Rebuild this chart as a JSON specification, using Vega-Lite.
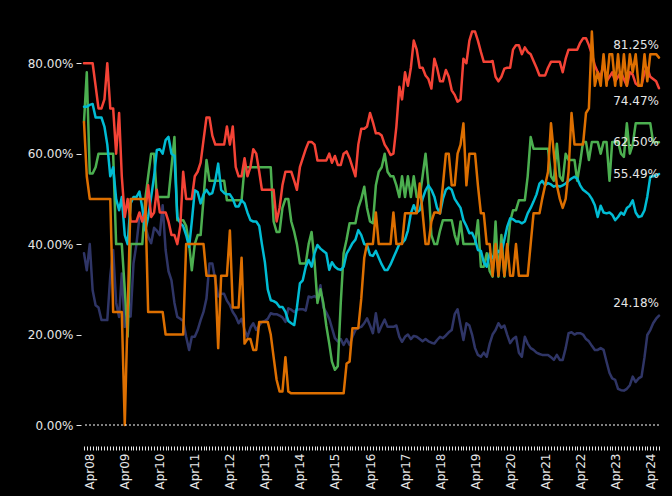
{
"$schema": "https://vega.github.io/schema/vega-lite/v6.json",
"width": 575, "height": 407,
"autosize": {"type": "none"},
"padding": {"left": 84, "top": 18, "right": 13, "bottom": 71},
"background": "#000000",
"config": {"view": {"stroke": null}, "font": "DejaVu Sans"},
"layer": [
{"data": {"format": {"parse": {"d": "date:'%Y-%m'"}}, "values": [
{"d":"2008-02","r":80,"o":67,"g":67,"c":70.4,"n":38},
{"d":"2008-03","r":80,"o":55,"g":78,"c":70.4,"n":34.2},
{"d":"2008-04","r":80,"o":50,"g":55.6,"c":70.8,"n":40},
{"d":"2008-05","r":80,"o":50,"g":55.6,"c":71,"n":29.8},
{"d":"2008-06","r":75,"o":50,"g":57,"c":68,"n":26.5},
{"d":"2008-07","r":70,"o":50,"g":60,"c":68,"n":26},
{"d":"2008-08","r":70,"o":50,"g":60,"c":68,"n":23.2},
{"d":"2008-09","r":72,"o":50,"g":60,"c":66,"n":23.2},
{"d":"2008-10","r":80,"o":50,"g":60,"c":62,"n":23.2},
{"d":"2008-11","r":70,"o":50,"g":60,"c":55,"n":33},
{"d":"2008-12","r":70,"o":25,"g":60,"c":57,"n":38.7},
{"d":"2009-01","r":60,"o":25,"g":40,"c":50,"n":27},
{"d":"2009-02","r":69,"o":25,"g":40,"c":47.5,"n":23.9},
{"d":"2009-03","r":55,"o":25,"g":40,"c":50.4,"n":33.5},
{"d":"2009-04","r":46,"o":0,"g":30,"c":42,"n":21.7},
{"d":"2009-05","r":50,"o":25,"g":19.5,"c":40,"n":24},
{"d":"2009-06","r":45,"o":50,"g":40,"c":49,"n":24},
{"d":"2009-07","r":45,"o":50,"g":40,"c":50.4,"n":35.7},
{"d":"2009-08","r":45,"o":50,"g":40,"c":50.4,"n":40},
{"d":"2009-09","r":47,"o":50,"g":40,"c":51.6,"n":46},
{"d":"2009-10","r":45,"o":50,"g":40,"c":48,"n":45.5},
{"d":"2009-11","r":47,"o":50,"g":50,"c":43,"n":44},
{"d":"2009-12","r":53,"o":25,"g":55,"c":46,"n":41.6},
{"d":"2010-01","r":46,"o":25,"g":60,"c":50.4,"n":40.2},
{"d":"2010-02","r":47,"o":25,"g":60,"c":55,"n":43.6},
{"d":"2010-03","r":52,"o":25,"g":50.4,"c":60.8,"n":43},
{"d":"2010-04","r":47,"o":25,"g":50.4,"c":61,"n":42},
{"d":"2010-05","r":47,"o":25,"g":50.4,"c":60,"n":48.6},
{"d":"2010-06","r":47,"o":20,"g":50.4,"c":63,"n":38.7},
{"d":"2010-07","r":45,"o":20,"g":50.4,"c":63.7,"n":34},
{"d":"2010-08","r":42,"o":20,"g":57,"c":60,"n":32},
{"d":"2010-09","r":42,"o":20,"g":63.7,"c":59.5,"n":27},
{"d":"2010-10","r":40,"o":20,"g":45.3,"c":46,"n":23.9},
{"d":"2010-11","r":44,"o":20,"g":45.3,"c":44.6,"n":23.5},
{"d":"2010-12","r":56,"o":20,"g":45.3,"c":44,"n":23},
{"d":"2011-01","r":50,"o":40,"g":44,"c":42,"n":19.5},
{"d":"2011-02","r":50,"o":40,"g":40,"c":39.4,"n":16.6},
{"d":"2011-03","r":50,"o":40,"g":34.2,"c":45,"n":19.5},
{"d":"2011-04","r":55,"o":40,"g":40,"c":51.9,"n":19.5},
{"d":"2011-05","r":56,"o":40,"g":42,"c":51.5,"n":21},
{"d":"2011-06","r":58,"o":40,"g":42,"c":49,"n":23.2},
{"d":"2011-07","r":63,"o":40,"g":50,"c":51,"n":25},
{"d":"2011-08","r":68,"o":33,"g":58.6,"c":52,"n":28},
{"d":"2011-09","r":68,"o":33,"g":54,"c":51,"n":35.7},
{"d":"2011-10","r":64,"o":33,"g":54,"c":51.3,"n":35.7},
{"d":"2011-11","r":62,"o":33,"g":54,"c":54,"n":32},
{"d":"2011-12","r":62,"o":17,"g":54,"c":57.8,"n":28.4},
{"d":"2012-01","r":62,"o":33,"g":54,"c":52,"n":29},
{"d":"2012-02","r":62,"o":33,"g":54,"c":51.3,"n":29},
{"d":"2012-03","r":66,"o":33,"g":49.7,"c":51,"n":27.5},
{"d":"2012-04","r":62,"o":43,"g":49.7,"c":51,"n":26.5},
{"d":"2012-05","r":66,"o":26,"g":49.7,"c":50,"n":25},
{"d":"2012-06","r":57,"o":26,"g":49.7,"c":48.3,"n":24},
{"d":"2012-07","r":55,"o":26,"g":49.7,"c":48.3,"n":22.5},
{"d":"2012-08","r":55,"o":37,"g":49.7,"c":49.7,"n":23.5},
{"d":"2012-09","r":59,"o":18,"g":57,"c":49,"n":21},
{"d":"2012-10","r":55,"o":19,"g":57,"c":47,"n":19.5},
{"d":"2012-11","r":57,"o":19,"g":57,"c":45.3,"n":21.5},
{"d":"2012-12","r":61,"o":16.6,"g":57,"c":45,"n":22.5},
{"d":"2013-01","r":60,"o":16.6,"g":57,"c":45,"n":21},
{"d":"2013-02","r":56,"o":22.8,"g":57,"c":44,"n":22},
{"d":"2013-03","r":52,"o":22.8,"g":57,"c":40,"n":22.8},
{"d":"2013-04","r":52,"o":22.8,"g":57,"c":36,"n":23},
{"d":"2013-05","r":52,"o":22.8,"g":57,"c":30,"n":23.5},
{"d":"2013-06","r":52,"o":20,"g":57,"c":27.6,"n":24.7},
{"d":"2013-07","r":52,"o":15,"g":45,"c":27.4,"n":24.5},
{"d":"2013-08","r":45,"o":10,"g":42.7,"c":27,"n":24.5},
{"d":"2013-09","r":48,"o":7.4,"g":42.7,"c":26.1,"n":24.2},
{"d":"2013-10","r":53,"o":7.4,"g":48,"c":26.1,"n":23.8},
{"d":"2013-11","r":56,"o":15,"g":50,"c":25,"n":22.8},
{"d":"2013-12","r":56,"o":7.4,"g":50,"c":23,"n":25.8},
{"d":"2014-01","r":56,"o":7,"g":45,"c":22.5,"n":25.5},
{"d":"2014-02","r":54,"o":7,"g":42.7,"c":22.1,"n":25},
{"d":"2014-03","r":52,"o":7,"g":40,"c":26,"n":25.5},
{"d":"2014-04","r":57,"o":7,"g":35.7,"c":31.3,"n":25.6},
{"d":"2014-05","r":59,"o":7,"g":35.7,"c":32,"n":25.6},
{"d":"2014-06","r":61,"o":7,"g":35.7,"c":35,"n":25.3},
{"d":"2014-07","r":62.6,"o":7,"g":40,"c":36.5,"n":28.4},
{"d":"2014-08","r":62.6,"o":7,"g":42.7,"c":35,"n":28.2},
{"d":"2014-09","r":62,"o":7,"g":36,"c":38,"n":28.5},
{"d":"2014-10","r":58.5,"o":7,"g":27,"c":39.8,"n":28},
{"d":"2014-11","r":58.5,"o":7,"g":30,"c":39,"n":30.9},
{"d":"2014-12","r":58.5,"o":7,"g":27,"c":38.5,"n":26},
{"d":"2015-01","r":58.5,"o":7,"g":22,"c":38,"n":24.9},
{"d":"2015-02","r":60,"o":7,"g":18,"c":34.3,"n":23.5},
{"d":"2015-03","r":58,"o":7,"g":14,"c":36,"n":21.5},
{"d":"2015-04","r":59.5,"o":7,"g":12.2,"c":35,"n":19.2},
{"d":"2015-05","r":57.5,"o":7,"g":13,"c":34.5,"n":18.5},
{"d":"2015-06","r":57.5,"o":7,"g":27,"c":34.3,"n":19},
{"d":"2015-07","r":60,"o":7,"g":38,"c":35,"n":17.7},
{"d":"2015-08","r":60.5,"o":13.6,"g":41,"c":37.9,"n":19},
{"d":"2015-09","r":59,"o":14,"g":44.6,"c":39,"n":17.7},
{"d":"2015-10","r":57,"o":21.4,"g":44.6,"c":40.2,"n":19.5},
{"d":"2015-11","r":55,"o":21.4,"g":44.6,"c":41,"n":21},
{"d":"2015-12","r":62,"o":21.4,"g":48,"c":43.1,"n":21.5},
{"d":"2016-01","r":65.5,"o":28,"g":50,"c":42,"n":21.7},
{"d":"2016-02","r":65.5,"o":37,"g":52.7,"c":40,"n":22.5},
{"d":"2016-03","r":66,"o":40,"g":48,"c":39.8,"n":23.6},
{"d":"2016-04","r":69,"o":40,"g":45,"c":37.6,"n":22},
{"d":"2016-05","r":67,"o":40,"g":44.6,"c":37.4,"n":20.3},
{"d":"2016-06","r":64.5,"o":47,"g":53,"c":38.5,"n":24.7},
{"d":"2016-07","r":64.5,"o":40,"g":56,"c":37,"n":20.5},
{"d":"2016-08","r":64,"o":40,"g":57,"c":35.5,"n":22},
{"d":"2016-09","r":62,"o":40,"g":60,"c":34.3,"n":23.3},
{"d":"2016-10","r":61,"o":40,"g":56,"c":34.3,"n":21.7},
{"d":"2016-11","r":59.7,"o":40,"g":55,"c":35.5,"n":21.7},
{"d":"2016-12","r":60,"o":47,"g":55,"c":37,"n":21.7},
{"d":"2017-01","r":66,"o":40,"g":53,"c":38.5,"n":22},
{"d":"2017-02","r":74.8,"o":40,"g":50.4,"c":40,"n":19.5},
{"d":"2017-03","r":72,"o":40,"g":55,"c":40.2,"n":18.4},
{"d":"2017-04","r":78,"o":46.8,"g":50.4,"c":41,"n":19.5},
{"d":"2017-05","r":75,"o":46.8,"g":55,"c":43,"n":20},
{"d":"2017-06","r":79,"o":46.8,"g":50.4,"c":46.8,"n":19},
{"d":"2017-07","r":85,"o":46.8,"g":55,"c":48.6,"n":19.7},
{"d":"2017-08","r":83,"o":46.8,"g":50.4,"c":47,"n":19.5},
{"d":"2017-09","r":79,"o":53.4,"g":50.4,"c":47.5,"n":19},
{"d":"2017-10","r":79,"o":47,"g":55,"c":50,"n":18.5},
{"d":"2017-11","r":77.3,"o":40,"g":60,"c":51.9,"n":19},
{"d":"2017-12","r":76.5,"o":40,"g":53,"c":53,"n":18.5},
{"d":"2018-01","r":74.4,"o":45,"g":42,"c":52,"n":18.2},
{"d":"2018-02","r":81,"o":47,"g":40,"c":50.5,"n":18},
{"d":"2018-03","r":79,"o":47,"g":40,"c":48,"n":18.8},
{"d":"2018-04","r":76,"o":46.8,"g":43,"c":46.8,"n":19.5},
{"d":"2018-05","r":76,"o":53,"g":45.3,"c":50,"n":19.2},
{"d":"2018-06","r":78.5,"o":60,"g":45.3,"c":52,"n":19.8},
{"d":"2018-07","r":77,"o":60,"g":45.3,"c":52.5,"n":20.5},
{"d":"2018-08","r":74,"o":53,"g":45.3,"c":52,"n":21},
{"d":"2018-09","r":73,"o":53,"g":42,"c":50,"n":24.5},
{"d":"2018-10","r":71.5,"o":60,"g":40,"c":49,"n":25.6},
{"d":"2018-11","r":72,"o":62,"g":45,"c":48,"n":22},
{"d":"2018-12","r":81,"o":66.7,"g":40,"c":45.3,"n":18.8},
{"d":"2019-01","r":80,"o":53,"g":40,"c":44,"n":22.5},
{"d":"2019-02","r":85,"o":60,"g":40,"c":42.4,"n":22},
{"d":"2019-03","r":87,"o":60,"g":40,"c":42.5,"n":20},
{"d":"2019-04","r":87,"o":60,"g":40,"c":41,"n":17},
{"d":"2019-05","r":85,"o":53,"g":45.3,"c":38.7,"n":15.5},
{"d":"2019-06","r":82.5,"o":46.8,"g":35,"c":38.5,"n":15.1},
{"d":"2019-07","r":80.3,"o":46.8,"g":35,"c":36,"n":16},
{"d":"2019-08","r":80.3,"o":40,"g":38,"c":35,"n":15.1},
{"d":"2019-09","r":80.3,"o":40,"g":34,"c":38,"n":18},
{"d":"2019-10","r":80.5,"o":33,"g":32.8,"c":37,"n":20},
{"d":"2019-11","r":77,"o":40,"g":45,"c":37.5,"n":21},
{"d":"2019-12","r":76,"o":33,"g":32.8,"c":38.5,"n":22.5},
{"d":"2020-01","r":77,"o":40,"g":42,"c":38,"n":21.5},
{"d":"2020-02","r":78.8,"o":33,"g":32.8,"c":41,"n":22},
{"d":"2020-03","r":79,"o":40,"g":38,"c":43.8,"n":20},
{"d":"2020-04","r":79,"o":33,"g":45,"c":45.7,"n":18.1},
{"d":"2020-05","r":83,"o":33,"g":47.5,"c":45.5,"n":19},
{"d":"2020-06","r":84,"o":40,"g":47.5,"c":45,"n":19.5},
{"d":"2020-07","r":84,"o":33,"g":49.7,"c":45,"n":16},
{"d":"2020-08","r":82,"o":33,"g":49.7,"c":44.6,"n":15.1},
{"d":"2020-09","r":83.5,"o":33,"g":49.7,"c":45,"n":19.5},
{"d":"2020-10","r":82.5,"o":33,"g":55,"c":46.8,"n":18},
{"d":"2020-11","r":82,"o":40,"g":63.7,"c":48,"n":17},
{"d":"2020-12","r":80.5,"o":46.8,"g":61.1,"c":49.4,"n":16.6},
{"d":"2021-01","r":79,"o":46.8,"g":61.1,"c":51,"n":16},
{"d":"2021-02","r":77.3,"o":46.8,"g":61.1,"c":53.4,"n":15.7},
{"d":"2021-03","r":77.3,"o":50,"g":61.1,"c":54,"n":15.5},
{"d":"2021-04","r":77.3,"o":53,"g":61.1,"c":53,"n":15.5},
{"d":"2021-05","r":79,"o":56,"g":61.1,"c":53.5,"n":15.5},
{"d":"2021-06","r":80.3,"o":66.7,"g":55,"c":53.2,"n":15},
{"d":"2021-07","r":80.3,"o":60,"g":54,"c":52.7,"n":14.4},
{"d":"2021-08","r":80.3,"o":53,"g":62.2,"c":53,"n":15.5},
{"d":"2021-09","r":80.3,"o":50,"g":55,"c":52.7,"n":14.4},
{"d":"2021-10","r":78,"o":48,"g":54,"c":53,"n":14.4},
{"d":"2021-11","r":81,"o":50,"g":60,"c":53.4,"n":17},
{"d":"2021-12","r":83,"o":56,"g":58.6,"c":54,"n":20.3},
{"d":"2022-01","r":83,"o":69,"g":58.6,"c":54.5,"n":20.5},
{"d":"2022-02","r":83,"o":62,"g":58.6,"c":54.9,"n":20},
{"d":"2022-03","r":83,"o":62,"g":54,"c":54.5,"n":20.3},
{"d":"2022-04","r":84.5,"o":62,"g":58,"c":53,"n":20.3},
{"d":"2022-05","r":85.5,"o":62,"g":62.6,"c":52,"n":20},
{"d":"2022-06","r":85.5,"o":69,"g":62.6,"c":51.5,"n":19},
{"d":"2022-07","r":84,"o":70,"g":58.6,"c":51,"n":18.5},
{"d":"2022-08","r":82,"o":87,"g":62.6,"c":50,"n":17.5},
{"d":"2022-09","r":79.5,"o":75,"g":62.6,"c":48.6,"n":16.6},
{"d":"2022-10","r":78,"o":78,"g":62.6,"c":46,"n":16.6},
{"d":"2022-11","r":77,"o":75,"g":60,"c":48.5,"n":17},
{"d":"2022-12","r":80,"o":82,"g":62.6,"c":47,"n":16.6},
{"d":"2023-01","r":76,"o":75,"g":62.6,"c":46.8,"n":14},
{"d":"2023-02","r":77,"o":82,"g":54,"c":47,"n":11.5},
{"d":"2023-03","r":78,"o":82,"g":62.6,"c":46.5,"n":10.3},
{"d":"2023-04","r":76,"o":75,"g":62.6,"c":45.3,"n":10},
{"d":"2023-05","r":77,"o":82,"g":62.6,"c":46,"n":8},
{"d":"2023-06","r":78,"o":75,"g":60,"c":47,"n":7.7},
{"d":"2023-07","r":76.5,"o":82,"g":59.3,"c":46.5,"n":7.6},
{"d":"2023-08","r":75,"o":75,"g":66.7,"c":48,"n":8},
{"d":"2023-09","r":78,"o":82,"g":60,"c":48.5,"n":8.8},
{"d":"2023-10","r":77.5,"o":78,"g":62,"c":49.7,"n":10.7},
{"d":"2023-11","r":75.5,"o":82,"g":66.7,"c":47,"n":9.5},
{"d":"2023-12","r":75,"o":75,"g":66.7,"c":46,"n":10.3},
{"d":"2024-01","r":75,"o":75,"g":66.7,"c":46.2,"n":10.7},
{"d":"2024-02","r":78,"o":82,"g":66.7,"c":47.5,"n":15},
{"d":"2024-03","r":79,"o":76,"g":66.7,"c":50.5,"n":19.9},
{"d":"2024-04","r":77,"o":82,"g":66.7,"c":54.9,"n":21},
{"d":"2024-05","r":76.5,"o":82,"g":62.5,"c":55,"n":22.5},
{"d":"2024-06","r":76,"o":82,"g":62.5,"c":55.2,"n":23.5},
{"d":"2024-07","r":74.47,"o":81.25,"g":62.5,"c":55.49,"n":24.18}
]},
 "transform": [{"fold": ["n", "g", "c", "r", "o"], "as": ["s", "v"]}],
 "mark": {"type": "line", "strokeWidth": 2.5, "strokeCap": "round", "strokeJoin": "round"},
 "encoding": {
  "x": {"field": "d", "type": "temporal", "title": null, "scale": {"nice": false},
   "axis": {"orient": "bottom", "offset": 21, "domain": false, "grid": false, "tickSize": 4, "tickColor": "#e6e6e6",
    "tickCount": {"interval": "month", "step": 1},
    "labelExpr": "month(datum.value) == 3 ? timeFormat(datum.value, '%b%y') : ''",
    "labelAngle": 270, "labelOverlap": false, "labelFlush": false, "labelPadding": 3,
    "labelFont": "DejaVu Sans", "labelFontSize": 12, "labelColor": "#e6e6e6"}},
  "y": {"field": "v", "type": "quantitative", "title": null, "scale": {"domain": [0, 90]},
   "axis": {"values": [0, 20, 40, 60, 80], "labelExpr": "format(datum.value, '.2f') + '%'",
    "domain": false, "grid": false, "offset": 3, "tickSize": 5, "tickColor": "#e6e6e6", "labelPadding": 3,
    "labelFont": "DejaVu Sans", "labelFontSize": 12, "labelColor": "#e6e6e6"}},
  "color": {"field": "s", "type": "nominal", "legend": null,
   "scale": {"domain": ["n", "g", "c", "r", "o"], "range": ["#2f3566", "#4caf50", "#00bcd4", "#f44336", "#dd6f00"]}}
 }},
{"data": {"values": [{"z": 0}]},
 "mark": {"type": "rule", "color": "#ffffff", "strokeDash": [2, 2], "strokeWidth": 1},
 "encoding": {"y": {"field": "z", "type": "quantitative", "title": null}}},
{"data": {"format": {"parse": {"d": "date:'%Y-%m'"}}, "values": [
 {"d": "2024-07", "s": "o", "v": 81.25, "t": "81.25%"},
 {"d": "2024-07", "s": "n", "v": 24.18, "t": "24.18%"}]},
 "mark": {"type": "text", "align": "right", "baseline": "middle", "dy": -13, "fontSize": 12, "font": "DejaVu Sans", "color": "#e6e6e6"},
 "encoding": {"x": {"field": "d", "type": "temporal", "title": null}, "y": {"field": "v", "type": "quantitative", "title": null}, "text": {"field": "t"}}},
{"data": {"format": {"parse": {"d": "date:'%Y-%m'"}}, "values": [
 {"d": "2024-07", "s": "r", "v": 74.47, "t": "74.47%"}]},
 "mark": {"type": "text", "align": "right", "baseline": "middle", "dy": 13, "fontSize": 12, "font": "DejaVu Sans", "color": "#e6e6e6"},
 "encoding": {"x": {"field": "d", "type": "temporal", "title": null}, "y": {"field": "v", "type": "quantitative", "title": null}, "text": {"field": "t"}}},
{"data": {"format": {"parse": {"d": "date:'%Y-%m'"}}, "values": [
 {"d": "2024-07", "s": "g", "v": 62.5, "t": "62.50%"},
 {"d": "2024-07", "s": "c", "v": 55.49, "t": "55.49%"}]},
 "mark": {"type": "text", "align": "right", "baseline": "middle", "dy": 0, "fontSize": 12, "font": "DejaVu Sans", "color": "#e6e6e6"},
 "encoding": {"x": {"field": "d", "type": "temporal", "title": null}, "y": {"field": "v", "type": "quantitative", "title": null}, "text": {"field": "t"}}}
]
}
